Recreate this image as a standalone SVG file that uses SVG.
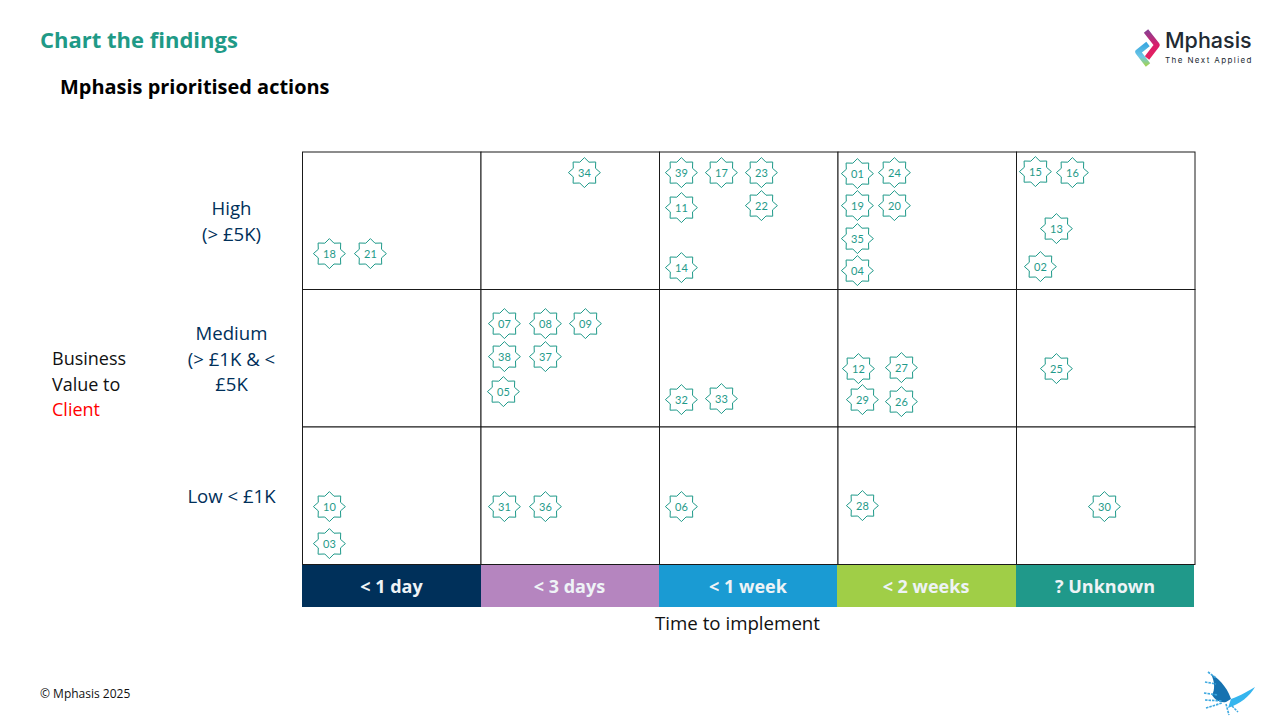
<svg xmlns="http://www.w3.org/2000/svg" width="1280" height="720" viewBox="0 0 1280 720">
<style>
text{font-family:"Open Sans","Noto Sans","Liberation Sans",sans-serif}
.cell{fill:#fff;stroke:#1a1a1a;stroke-width:1}
.star{fill:#fff;stroke:#1f9a8a;stroke-width:1}
.n{font-family:Lato,"Liberation Sans",sans-serif;font-size:11px;fill:#1f9a8a;text-anchor:middle}
.row{font-size:18.600px;fill:#00305a;text-anchor:middle}
.bl{font-size:18px;font-weight:700;fill:#eef3f6;text-anchor:middle}
.ax{font-size:18px;fill:#111}
</style>
<defs>
<polygon id="s" class="star" points="16,0 11.1,4.3 11.3,10.6 4.6,10.4 0,15 -4.6,10.4 -11.3,10.6 -11.1,4.3 -16,0 -11.1,-4.3 -11.3,-10.6 -4.6,-10.4 0,-15 4.6,-10.4 11.3,-10.6 11.1,-4.3"/>
<filter id="b" x="-20%" y="-20%" width="140%" height="140%"><feGaussianBlur stdDeviation="0.7"/></filter>
<filter id="b2" x="-20%" y="-20%" width="140%" height="140%"><feGaussianBlur stdDeviation="0.5"/></filter>
<linearGradient id="pk" x1="0" y1="0" x2="0" y2="1"><stop offset="0" stop-color="#8a3f92"/><stop offset="0.5" stop-color="#d81f6b"/><stop offset="1" stop-color="#e5205f"/></linearGradient>
<linearGradient id="bg" x1="0" y1="0" x2="0" y2="1"><stop offset="0" stop-color="#3aa8e0"/><stop offset="0.6" stop-color="#6cc6e6"/><stop offset="1" stop-color="#9fd25a"/></linearGradient>
</defs>

<text x="40" y="47.500" font-size="22" font-weight="700" fill="#1f9a87">Chart the findings</text>
<text x="60" y="94" font-size="19.950" font-weight="700" fill="#000">Mphasis prioritised actions</text>

<g id="logo">
<g filter="url(#b2)">
<path d="M1146 31 L1157 45 L1147 58" fill="none" stroke="url(#pk)" stroke-width="5.500" stroke-linejoin="round"/>
<path d="M1148 44 L1138 52 L1148 65" fill="none" stroke="url(#bg)" stroke-width="5.500" stroke-linejoin="round"/>
</g>
<text x="1165" y="48" font-size="21.500" font-weight="500" fill="#222a33" style="font-family:Inter,'Open Sans',sans-serif">Mphasis</text>
<text x="1165" y="63" font-size="8" letter-spacing="1.400" fill="#222a33" style="font-family:Inter,'Open Sans',sans-serif">The Next Applied</text>
</g>

<g id="grid">
<rect class="cell" x="302.5" y="152" width="178.500" height="137.500"/>
<rect class="cell" x="481" y="152" width="178.500" height="137.500"/>
<rect class="cell" x="659.500" y="152" width="178.500" height="137.500"/>
<rect class="cell" x="838" y="152" width="178.500" height="137.500"/>
<rect class="cell" x="1016.500" y="152" width="178.500" height="137.500"/>
<rect class="cell" x="302.5" y="289.500" width="178.500" height="137.500"/>
<rect class="cell" x="481" y="289.500" width="178.500" height="137.500"/>
<rect class="cell" x="659.500" y="289.500" width="178.500" height="137.500"/>
<rect class="cell" x="838" y="289.500" width="178.500" height="137.500"/>
<rect class="cell" x="1016.500" y="289.500" width="178.500" height="137.500"/>
<rect class="cell" x="302.5" y="427" width="178.500" height="137.500"/>
<rect class="cell" x="481" y="427" width="178.500" height="137.500"/>
<rect class="cell" x="659.500" y="427" width="178.500" height="137.500"/>
<rect class="cell" x="838" y="427" width="178.500" height="137.500"/>
<rect class="cell" x="1016.500" y="427" width="178.500" height="137.500"/>
</g>

<g id="bars">
<rect x="302" y="565" width="179" height="42" fill="#00305a"/>
<rect x="481" y="565" width="178" height="42" fill="#b585bf"/>
<rect x="659" y="565" width="178" height="42" fill="#1a9bd3"/>
<rect x="837" y="565" width="179" height="42" fill="#a0ce47"/>
<rect x="1016" y="565" width="178" height="42" fill="#20998a"/>
<text class="bl" x="391.500" y="593">&lt; 1 day</text>
<text class="bl" x="569.500" y="593">&lt; 3 days</text>
<text class="bl" x="748" y="593">&lt; 1 week</text>
<text class="bl" x="926" y="593">&lt; 2 weeks</text>
<text class="bl" x="1105" y="593">? Unknown</text>
</g>

<g id="labels">
<text class="row" x="231.500" y="215">High</text>
<text class="row" x="231.500" y="241">(&gt; £5K)</text>
<text class="row" x="231.500" y="340">Medium</text>
<text class="row" x="231.500" y="366">(&gt; £1K &amp; &lt;</text>
<text class="row" x="231.500" y="391">£5K</text>
<text class="row" x="231.500" y="503">Low &lt; £1K</text>
<text class="ax" x="52" y="365">Business</text>
<text class="ax" x="52" y="391">Value to</text>
<text class="ax" x="52" y="416" style="fill:#f00">Client</text>
<text class="ax" x="737.500" y="630" text-anchor="middle" style="font-size:18.700px">Time to implement</text>
<text x="40" y="698" font-size="12" fill="#111">© Mphasis 2025</text>
</g>

<g id="nodes" transform="translate(-0.6,-0.4)">
<g id="n34"><use href="#s" x="585" y="173"/><text class="n" x="585" y="177">34</text></g>
<g id="n39"><use href="#s" x="682" y="173"/><text class="n" x="682" y="177">39</text></g>
<g id="n17"><use href="#s" x="722" y="173"/><text class="n" x="722" y="177">17</text></g>
<g id="n23"><use href="#s" x="762" y="173"/><text class="n" x="762" y="177">23</text></g>
<g id="n11"><use href="#s" x="682" y="208"/><text class="n" x="682" y="212">11</text></g>
<g id="n22"><use href="#s" x="762" y="206"/><text class="n" x="762" y="210">22</text></g>
<g id="n14"><use href="#s" x="682" y="268"/><text class="n" x="682" y="272">14</text></g>
<g id="n01"><use href="#s" x="858" y="174"/><text class="n" x="858" y="178">01</text></g>
<g id="n24"><use href="#s" x="895" y="173"/><text class="n" x="895" y="177">24</text></g>
<g id="n19"><use href="#s" x="858" y="206"/><text class="n" x="858" y="210">19</text></g>
<g id="n20"><use href="#s" x="895" y="206"/><text class="n" x="895" y="210">20</text></g>
<g id="n35"><use href="#s" x="858" y="239"/><text class="n" x="858" y="243">35</text></g>
<g id="n04"><use href="#s" x="858" y="271"/><text class="n" x="858" y="275">04</text></g>
<g id="n15"><use href="#s" x="1036" y="172"/><text class="n" x="1036" y="176">15</text></g>
<g id="n16"><use href="#s" x="1073" y="173"/><text class="n" x="1073" y="177">16</text></g>
<g id="n13"><use href="#s" x="1057" y="229"/><text class="n" x="1057" y="233">13</text></g>
<g id="n02"><use href="#s" x="1041" y="267"/><text class="n" x="1041" y="271">02</text></g>
<g id="n18"><use href="#s" x="330" y="254"/><text class="n" x="330" y="258">18</text></g>
<g id="n21"><use href="#s" x="371" y="254"/><text class="n" x="371" y="258">21</text></g>
<g id="n07"><use href="#s" x="505" y="324"/><text class="n" x="505" y="328">07</text></g>
<g id="n08"><use href="#s" x="546" y="324"/><text class="n" x="546" y="328">08</text></g>
<g id="n09"><use href="#s" x="586" y="324"/><text class="n" x="586" y="328">09</text></g>
<g id="n38"><use href="#s" x="505" y="357"/><text class="n" x="505" y="361">38</text></g>
<g id="n37"><use href="#s" x="546" y="357"/><text class="n" x="546" y="361">37</text></g>
<g id="n05"><use href="#s" x="504" y="392"/><text class="n" x="504" y="396">05</text></g>
<g id="n32"><use href="#s" x="682" y="400"/><text class="n" x="682" y="404">32</text></g>
<g id="n33"><use href="#s" x="722" y="399"/><text class="n" x="722" y="403">33</text></g>
<g id="n12"><use href="#s" x="859" y="369"/><text class="n" x="859" y="373">12</text></g>
<g id="n27"><use href="#s" x="902" y="368"/><text class="n" x="902" y="372">27</text></g>
<g id="n29"><use href="#s" x="863" y="400"/><text class="n" x="863" y="404">29</text></g>
<g id="n26"><use href="#s" x="902" y="402"/><text class="n" x="902" y="406">26</text></g>
<g id="n25"><use href="#s" x="1057" y="369"/><text class="n" x="1057" y="373">25</text></g>
<g id="n10"><use href="#s" x="330" y="507"/><text class="n" x="330" y="511">10</text></g>
<g id="n03"><use href="#s" x="330" y="544"/><text class="n" x="330" y="548">03</text></g>
<g id="n31"><use href="#s" x="505" y="507"/><text class="n" x="505" y="511">31</text></g>
<g id="n36"><use href="#s" x="546" y="507"/><text class="n" x="546" y="511">36</text></g>
<g id="n06"><use href="#s" x="682" y="507"/><text class="n" x="682" y="511">06</text></g>
<g id="n28"><use href="#s" x="863" y="506"/><text class="n" x="863" y="510">28</text></g>
<g id="n30"><use href="#s" x="1105" y="507"/><text class="n" x="1105" y="511">30</text></g>
</g>

<g id="connectors"></g>

<g id="butterfly" filter="url(#b)">
<path d="M1211 674 C1222 680 1229 692 1231 699 L1226 702 C1220 703 1215 700 1212 695 C1215 690 1215 682 1211 674Z" fill="#1672b0"/>
<path d="M1231 699 C1240 696 1250 690 1255 687 C1250 696 1240 704 1228 708Z" fill="#35b5ee"/>
<path d="M1208 672 L1216 678 M1205 682 L1216 684 M1204 693 L1218 695 M1205 700 L1222 701 M1206 708 L1222 703 M1226 704 L1229 715 M1232 706 L1238 712" stroke="#3fa9e0" stroke-width="1.600" stroke-dasharray="2.500 1" fill="none"/>
</g>
</svg>
